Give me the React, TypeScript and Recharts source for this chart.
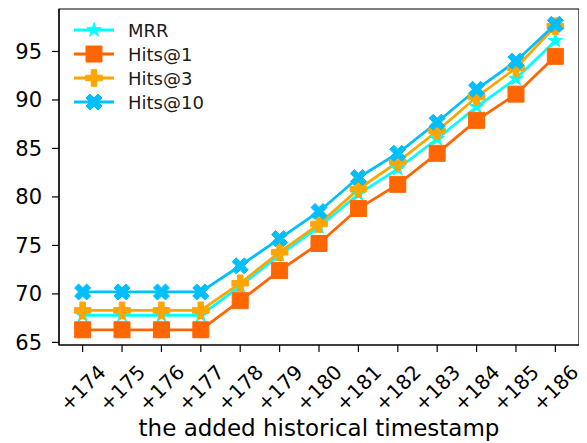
import { LineChart, Line, XAxis, YAxis, Legend, Label, ReferenceArea } from 'recharts';

const timestamps = [174, 175, 176, 177, 178, 179, 180, 181, 182, 183, 184, 185, 186];
const mrr = [67.8, 67.8, 67.8, 67.8, 70.8, 74.0, 76.9, 80.3, 82.9, 86.0, 89.3, 92.2, 96.1];
const hits1 = [66.3, 66.3, 66.3, 66.3, 69.3, 72.4, 75.2, 78.8, 81.3, 84.5, 87.9, 90.6, 94.5];
const hits3 = [68.3, 68.3, 68.3, 68.3, 71.1, 74.3, 77.2, 80.8, 83.6, 86.8, 90.3, 93.3, 97.6];
const hits10 = [70.2, 70.2, 70.2, 70.2, 72.9, 75.7, 78.5, 82.0, 84.5, 87.7, 91.1, 94.0, 97.8];
const yTicks = [65, 70, 75, 80, 85, 90, 95];

const data = timestamps.map((t, i) => ({
  t,
  MRR: mrr[i],
  'Hits@1': hits1[i],
  'Hits@3': hits3[i],
  'Hits@10': hits10[i],
}));

const FONT = '"DejaVu Sans", sans-serif';
const X_DOMAIN = [173.4, 186.6];
const Y_DOMAIN = [64.73, 99.38];

type Shape = 'star' | 'square' | 'plus' | 'x';

const series: { key: string; color: string; shape: Shape }[] = [
  { key: 'MRR', color: '#00FFFF', shape: 'star' },
  { key: 'Hits@1', color: '#FF6600', shape: 'square' },
  { key: 'Hits@3', color: '#FFA500', shape: 'plus' },
  { key: 'Hits@10', color: '#00BFFF', shape: 'x' },
];

function markerPath(shape: Shape, cx: number, cy: number) {
  if (shape === 'square') {
    const h = 8;
    return `M${cx - h},${cy - h}H${cx + h}V${cy + h}H${cx - h}Z`;
  }
  if (shape === 'star') {
    const R = 7.5;
    const r = R * 0.382;
    let d = '';
    for (let k = 0; k < 10; k++) {
      const rad = k % 2 === 0 ? R : r;
      const a = (Math.PI / 5) * k - Math.PI / 2;
      d += (k === 0 ? 'M' : 'L') + (cx + rad * Math.cos(a)) + ',' + (cy + rad * Math.sin(a));
    }
    return d + 'Z';
  }
  // filled plus / filled x, built from a plus outline
  const pts = [
    [1, -3], [1, -1], [3, -1], [3, 1], [1, 1], [1, 3],
    [-1, 3], [-1, 1], [-3, 1], [-3, -1], [-1, -1], [-1, -3],
  ];
  const s = shape === 'plus' ? 8.3 / 3 : 8.5 / 3;
  const rot = shape === 'x' ? Math.PI / 4 : 0;
  return (
    pts
      .map(([px, py], i) => {
        const x = px * s;
        const y = py * s;
        const rx = x * Math.cos(rot) - y * Math.sin(rot);
        const ry = x * Math.sin(rot) + y * Math.cos(rot);
        return (i === 0 ? 'M' : 'L') + (cx + rx) + ',' + (cy + ry);
      })
      .join('') + 'Z'
  );
}

function makeDot(shape: Shape, color: string) {
  return (props: any) => {
    const { cx, cy, index } = props;
    if (cx == null || cy == null) return <g key={index} />;
    return <path key={index} d={markerPath(shape, cx, cy)} fill={color} stroke={color} strokeWidth={1} />;
  };
}

function XTick(props: any) {
  const { x, y, payload } = props;
  return (
    <g transform={`translate(${x},${y + 34})`}>
      <text
        transform="rotate(-45)"
        textAnchor="middle"
        dominantBaseline="central"
        fontSize={20}
        fontFamily={FONT}
        fill="#000"
      >
        {'+' + payload.value}
      </text>
    </g>
  );
}

function LegendBox() {
  return (
    <div style={{ fontFamily: FONT, fontSize: 18, color: '#1a1a1a' }}>
      {series.map((s) => (
        <div key={s.key} style={{ display: 'flex', alignItems: 'center', height: 24 }}>
          <svg width={40} height={24}>
            <line x1={0} y1={12} x2={40} y2={12} stroke={s.color} strokeWidth={2.8} />
            <path d={markerPath(s.shape, 20, 12)} fill={s.color} stroke={s.color} strokeWidth={1} />
          </svg>
          <span style={{ marginLeft: 14 }}>{s.key}</span>
        </div>
      ))}
    </div>
  );
}

export default function App() {
  return (
    <LineChart width={579} height={435} data={data} margin={{ top: 1, right: 8, bottom: 0, left: 0 }}>
      <XAxis
        dataKey="t"
        type="number"
        domain={X_DOMAIN}
        ticks={timestamps}
        allowDataOverflow
        interval={0}
        height={98}
        tickSize={7}
        tick={<XTick />}
        stroke="#000"
        strokeWidth={1.2}
      >
        <Label
          content={(p: any) => {
            const vb = p.viewBox;
            return (
              <text x={vb.x + vb.width / 2} y={428} textAnchor="middle" fontSize={23} fontFamily={FONT} fill="#000">
                the added historical timestamp
              </text>
            );
          }}
        />
      </XAxis>
      <YAxis
        domain={Y_DOMAIN}
        ticks={yTicks}
        allowDataOverflow
        width={51}
        tickSize={7}
        tickMargin={10}
        tick={{ fill: '#000', fontSize: 21, fontFamily: FONT }}
        stroke="#000"
        strokeWidth={1.2}
      />
      <ReferenceArea
        x1={X_DOMAIN[0]}
        x2={X_DOMAIN[1]}
        y1={Y_DOMAIN[0]}
        y2={Y_DOMAIN[1]}
        fill="none"
        stroke="#000"
        strokeWidth={1.2}
        ifOverflow="visible"
      />
      <Legend
        content={<LegendBox />}
        layout="vertical"
        verticalAlign="middle"
        align="center"
        wrapperStyle={{ position: 'absolute', left: 66, top: 10, width: 'auto', height: 'auto' }}
      />
      {series.map((s) => (
        <Line
          key={s.key}
          dataKey={s.key}
          stroke={s.color}
          strokeWidth={2.8}
          dot={makeDot(s.shape, s.color)}
          activeDot={false}
          isAnimationActive={false}
        />
      ))}
    </LineChart>
  );
}
